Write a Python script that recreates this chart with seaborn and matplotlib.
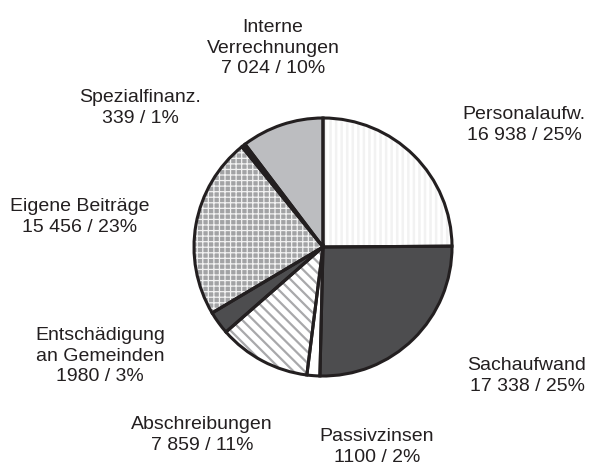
import matplotlib
matplotlib.use("Agg")
import matplotlib.pyplot as plt
import seaborn as sns

categories = ["Personalaufw.", "Sachaufwand", "Passivzinsen", "Abschreibungen",
              "Entschädigung\nan Gemeinden", "Eigene Beiträge", "Spezialfinanz.",
              "Interne\nVerrechnungen"]
values = [16938, 17338, 1100, 7859, 1980, 15456, 339, 7024]
value_labels = ["16 938", "17 338", "1100", "7 859", "1980", "15 456", "339", "7 024"]
percents = [25, 25, 2, 11, 3, 23, 1, 10]

sns.set_theme(style="white")
plt.rcParams['font.family'] = ['Liberation Sans', 'DejaVu Sans']
plt.rcParams['hatch.linewidth'] = 1.5

facecolors = ["#ffffff", "#4d4d4f", "#ffffff", "#ffffff", "#4d4d4f", "#a2a3a5", "#231f20", "#bcbdc0"]
hatches = ["|||", None, None, "\\\\\\", None, "+++", None, None]
hatchcolors = ["#f2f2f2", None, None, "#a9a9ab", None, "#f2f2f2", None, None]
hatchwidths = [1.8, None, None, 1.6, None, 0.9, None, None]

fig = plt.figure(figsize=(6, 4.65), dpi=100)
ax = fig.add_axes([0, 0, 1, 1])
cx, cy, r = 323, 247, 129

ax.pie(values, startangle=90, counterclock=False, colors=facecolors,
       wedgeprops=dict(linewidth=0))

# hatch overlays, one pie per hatched category
for i, (h, hc, hw) in enumerate(zip(hatches, hatchcolors, hatchwidths)):
    if not h:
        continue
    with plt.rc_context({'hatch.linewidth': hw}):
        ws, _ = ax.pie(values, startangle=90, counterclock=False,
                       colors=["none"] * len(values), wedgeprops=dict(linewidth=0))
        for j, w in enumerate(ws):
            if j == i:
                w.set_edgecolor(hc)
                w.set_hatch(h)
                w.set_linewidth(0)
                if hasattr(w, "set_hatch_linewidth"):
                    w.set_hatch_linewidth(hw)
            else:
                w.set_visible(False)

ax.pie(values, startangle=90, counterclock=False, colors=["none"] * len(values),
       wedgeprops=dict(linewidth=2.2, edgecolor="#231f20", fill=False))

ax.set_xlim(-cx / r, (600 - cx) / r)
ax.set_ylim(-(465 - cy) / r, cy / r)
ax.set_aspect("auto")
ax.axis("off")

label_pos = [(524, 125), (527, 376), (377, 447), (202, 435), (100, 356),
             (80, 217), (140, 108), (273, 48)]
for cat, vl, p, (px, py) in zip(categories, value_labels, percents, label_pos):
    ax.text((px - cx) / r, (cy - py) / r, f"{cat}\n{vl} / {p}%",
            ha="center", va="center", fontsize=14, color="#231f20",
            linespacing=1.25)

fig.savefig("out.png", dpi=100)
